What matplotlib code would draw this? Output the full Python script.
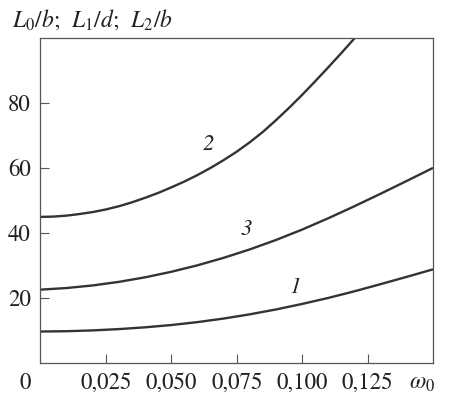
import matplotlib
matplotlib.use("Agg")
import matplotlib.pyplot as plt

# ---- data ----
omega = [0.00, 0.01, 0.02, 0.03, 0.04, 0.05, 0.06, 0.07, 0.08, 0.09, 0.10,
         0.11, 0.12, 0.13, 0.14, 0.15]
curve1 = [9.6, 9.7, 9.95, 10.35, 10.9, 11.6, 12.5, 13.6, 14.9, 16.4, 18.1,
          19.95, 22.0, 24.2, 26.45, 28.75]
curve3 = [22.5, 23.0, 23.8, 24.9, 26.3, 28.0, 30.0, 32.3, 34.9, 37.8, 41.0,
          44.5, 48.2, 52.05, 56.0, 60.0]
omega2 = [0.000, 0.005, 0.010, 0.015, 0.020, 0.025, 0.030, 0.035, 0.040,
          0.045, 0.050, 0.055, 0.060, 0.065, 0.070, 0.075, 0.080, 0.085,
          0.090, 0.095, 0.100, 0.105, 0.110, 0.115, 0.120, 0.125]
curve2 = [44.9, 45.0, 45.3, 45.8, 46.4, 47.2, 48.2, 49.4, 50.8,
          52.3, 54.0, 55.8, 57.8, 60.0, 62.4, 65.0, 67.9, 71.1,
          74.7, 78.5, 82.5, 86.7, 91.0, 95.4, 99.9, 104.5]
xticks = [0.025, 0.050, 0.075, 0.100, 0.125]
xticklabels = ["0,025", "0,050", "0,075", "0,100", "0,125"]
yticks = [20, 40, 60, 80]
yticklabels = ["20", "40", "60", "80"]
curve_labels = ["1", "2", "3"]
label_pos = [(0.0973, 23.2), (0.0640, 67.2), (0.0787, 41.0)]

plt.rcParams['mathtext.fontset'] = 'stix'
serif = 'STIXGeneral'
ink = '#333333'

fig = plt.figure(figsize=(4.52, 3.98), dpi=100)
ax = fig.add_axes([0.0896, 0.0887, 0.958 - 0.0896, 0.9045 - 0.0887])

for xs, ys in [(omega, curve1), (omega2, curve2), (omega, curve3)]:
    ax.plot(xs, ys, color=ink, lw=1.7, solid_capstyle='butt',
            solid_joinstyle='round')

ax.set_xlim(0, 0.15)
ax.set_ylim(0, 100)
ax.set_xticks(xticks)
ax.set_xticklabels(xticklabels)
ax.set_yticks(yticks)
ax.set_yticklabels(yticklabels)
ax.tick_params(direction='in', length=6.5, width=0.8, color='#555555',
               labelsize=16.5, labelcolor='#222222', pad=7)
for lab in ax.get_xticklabels() + ax.get_yticklabels():
    lab.set_fontfamily(serif)
for sp in ax.spines.values():
    sp.set_color('#555555')
    sp.set_linewidth(0.9)

for t, (x, y) in zip(curve_labels, label_pos):
    ax.text(x, y, t, fontsize=16.5, fontfamily=serif, style='italic',
            color='#222222', ha='center', va='center')

fig.text(25 / 452, 0.0377, "0", fontsize=16.5, fontfamily=serif,
         color='#222222', ha='center', va='center')
fig.text(0.934, 0.040, r"$\omega_0$", fontsize=17, color='#222222',
         ha='center', va='center')
fig.text(12 / 452, 0.932, r"$L_0/b$;  $L_1/d$;  $L_2/b$", fontsize=17,
         color='#222222', ha='left', va='baseline', fontfamily=serif)

fig.savefig("out.png", dpi=100)
